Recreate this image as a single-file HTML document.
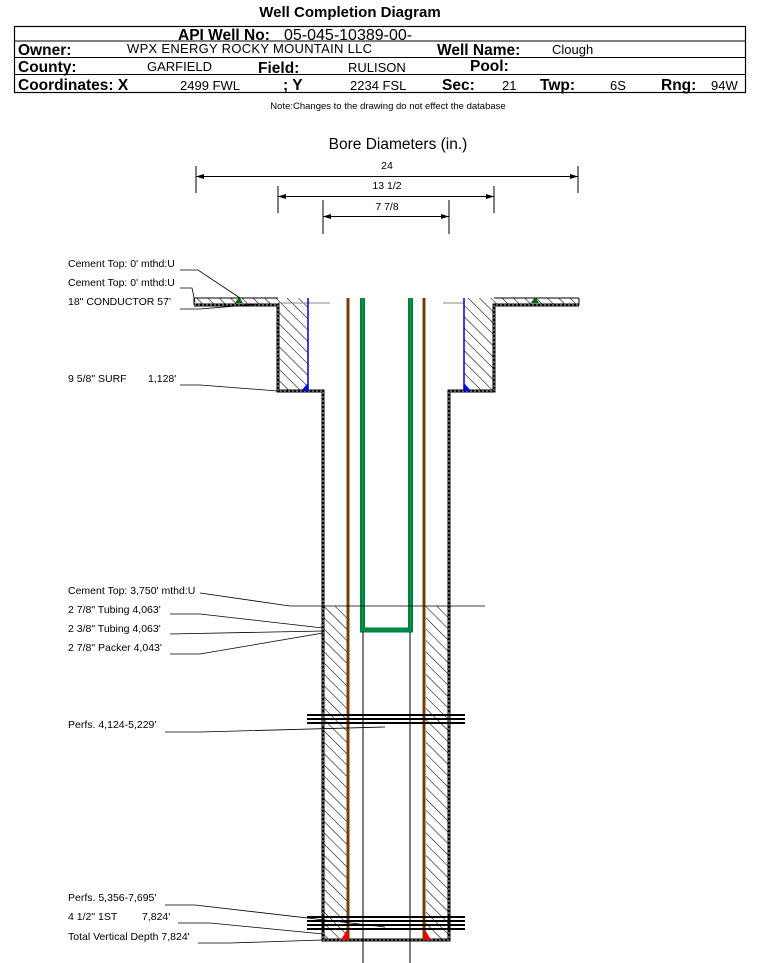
<!DOCTYPE html>
<html><head><meta charset="utf-8"><style>
body{margin:0;background:#fff}
svg{display:block;font-family:"Liberation Sans",Arial,sans-serif}
</style></head><body>
<svg width="759" height="963" viewBox="0 0 759 963" xmlns="http://www.w3.org/2000/svg">
<defs>
<pattern id="h" patternUnits="userSpaceOnUse" width="8" height="8" patternTransform="rotate(-45)">
<rect width="8" height="8" fill="#fff"/><line x1="0" y1="0" x2="0" y2="8" stroke="#000" stroke-width="1.1"/>
</pattern>
</defs>
<!-- header -->
<text x="350" y="17" font-size="15" font-weight="bold" text-anchor="middle">Well Completion Diagram</text>
<rect x="14.5" y="26.5" width="731" height="66" fill="none" stroke="#000" stroke-width="1.2"/>
<line x1="14" y1="41" x2="745" y2="41" stroke="#000"/>
<line x1="14" y1="57.5" x2="745" y2="57.5" stroke="#000"/>
<line x1="14" y1="74.5" x2="745" y2="74.5" stroke="#000"/>
<g font-size="15.5" font-weight="bold">
<text x="178" y="40">API Well No:</text>
<text x="18" y="55">Owner:</text><text x="437" y="55">Well Name:</text>
<text x="18" y="72">County:</text><text x="258" y="73">Field:</text><text x="470" y="71">Pool:</text>
<text x="18" y="90">Coordinates: X</text><text x="283" y="90">; Y</text><text x="442" y="90">Sec:</text><text x="540" y="90">Twp:</text><text x="661" y="90">Rng:</text>
</g>
<text x="284" y="40" font-size="16">05-045-10389-00-</text>
<g font-size="13">
<text x="127" y="53" textLength="245">WPX ENERGY ROCKY MOUNTAIN LLC</text><text x="552" y="54">Clough</text>
<text x="147" y="71">GARFIELD</text><text x="348" y="72">RULISON</text>
<text x="180" y="90">2499 FWL</text><text x="350" y="90">2234 FSL</text><text x="502" y="90">21</text><text x="610" y="90">6S</text><text x="711" y="90">94W</text>
</g>
<text x="388" y="109" font-size="9.5" text-anchor="middle">Note:Changes to the drawing do not effect the database</text>
<text x="398" y="149" font-size="15.5" text-anchor="middle">Bore Diameters (in.)</text>
<!-- dimensions -->
<g stroke="#000" stroke-width="1" fill="none">
<line x1="196" y1="166" x2="196" y2="193"/><line x1="578" y1="166" x2="578" y2="193"/><line x1="196" y1="176.5" x2="578" y2="176.5"/>
<line x1="278" y1="186" x2="278" y2="213"/><line x1="494" y1="186" x2="494" y2="213"/><line x1="278" y1="196.5" x2="494" y2="196.5"/>
<line x1="323" y1="200" x2="323" y2="234"/><line x1="449" y1="200" x2="449" y2="234"/><line x1="323" y1="216.5" x2="449" y2="216.5"/>
</g>
<g fill="#000">
<path d="M196 176.5 l8 -2.5 v5z"/><path d="M578 176.5 l-8 -2.5 v5z"/>
<path d="M278 196.5 l8 -2.5 v5z"/><path d="M494 196.5 l-8 -2.5 v5z"/>
<path d="M323 216.5 l8 -2.5 v5z"/><path d="M449 216.5 l-8 -2.5 v5z"/>
</g>
<g font-size="10.5" text-anchor="middle"><text x="387" y="169">24</text><text x="387" y="189">13 1/2</text><text x="387" y="210">7 7/8</text></g>
<!-- cement hatches -->
<rect x="194" y="298" width="84" height="7" fill="url(#h)"/>
<rect x="494" y="298" width="85" height="7" fill="url(#h)"/>
<rect x="278" y="298" width="30" height="93" fill="url(#h)"/>
<rect x="464" y="298" width="30" height="93" fill="url(#h)"/>
<rect x="323" y="606" width="24" height="334" fill="url(#h)"/>
<rect x="426" y="606" width="23" height="334" fill="url(#h)"/>
<!-- casing outlines -->
<g fill="none" stroke="#000" stroke-width="3">
<path d="M194 305 H278 V391 H323 V940 H449 V391 H494 V305 H579"/>
</g>
<g fill="none" stroke="#bbb" stroke-width="1" stroke-dasharray="2 2">
<path d="M194 305 H278 V391 H323 V940 H449 V391 H494 V305 H579"/>
</g>
<line x1="194" y1="298" x2="278" y2="298" stroke="#000"/><line x1="194" y1="298" x2="194" y2="305" stroke="#000"/>
<line x1="494" y1="298" x2="579" y2="298" stroke="#000"/><line x1="579" y1="298" x2="579" y2="305" stroke="#000"/>
<line x1="278" y1="303" x2="330" y2="303" stroke="#888"/><line x1="443" y1="303" x2="464" y2="303" stroke="#888"/>
<line x1="308" y1="298" x2="308" y2="391" stroke="#0000cc" stroke-width="1.5"/>
<line x1="464" y1="298" x2="464" y2="391" stroke="#0000cc" stroke-width="1.5"/>
<path d="M301 391 L308 383 V391Z" fill="#0000ee"/><path d="M464 383 L471 391 H464Z" fill="#0000ee"/>
<path d="M235 303 l4 -6 l4 6z" fill="#006600"/><path d="M531 303 l4 -6 l4 6z" fill="#006600"/>
<!-- production casing red -->
<g stroke-width="3">
<line x1="348" y1="298" x2="348" y2="940" stroke="#008000"/><line x1="424" y1="298" x2="424" y2="940" stroke="#008000"/>
</g>
<line x1="348" y1="298" x2="348" y2="940" stroke="#ee0000" stroke-width="1.5"/>
<line x1="424" y1="298" x2="424" y2="940" stroke="#ee0000" stroke-width="1.5"/>
<path d="M341 940 L348 928 V940Z" fill="#ee0000"/><path d="M424 928 L431 940 H424Z" fill="#ee0000"/>
<!-- tubing -->
<path d="M362.5 298 V630 H410.5 V298" fill="none" stroke="#008040" stroke-width="5"/>
<path d="M362.5 298 V630 H410.5 V298" fill="none" stroke="#00a040" stroke-width="1"/>
<line x1="363" y1="632" x2="363" y2="963" stroke="#000"/><line x1="410" y1="632" x2="410" y2="963" stroke="#000"/>
<!-- cement top line -->
<path d="M200 593 L290 606 H485" fill="none" stroke="#000" stroke-width="0.8"/>
<!-- perfs -->
<g stroke="#000" stroke-width="2">
<line x1="307" y1="715" x2="465" y2="715"/><line x1="307" y1="719" x2="465" y2="719"/><line x1="307" y1="723" x2="465" y2="723"/>
<line x1="307" y1="917" x2="465" y2="917"/><line x1="307" y1="921" x2="465" y2="921"/><line x1="307" y1="925" x2="465" y2="925"/><line x1="307" y1="929" x2="465" y2="929"/>
</g>
<!-- leaders -->
<g fill="none" stroke="#000" stroke-width="0.8">
<path d="M180 270 H198 L240 298"/>
<path d="M180 288 H192 L195 302"/>
<path d="M180 309 H200 L260 304"/>
<path d="M180 385 H200 L278 391"/>
<path d="M170 614 H200 L323 628"/>
<path d="M170 634 L323 631"/>
<path d="M170 654 H200 L323 633"/>
<path d="M165 732 H200 L385 727"/>
<path d="M165 905 H195 L385 927"/>
<path d="M178 923 H210 L323 934"/>
<path d="M198 943 H230 L323 940"/>
</g>
<g font-size="10.5">
<text x="68" y="267">Cement Top: 0' mthd:U</text>
<text x="68" y="286">Cement Top: 0' mthd:U</text>
<text x="68" y="305">18" CONDUCTOR  57'</text>
<text x="68" y="382">9 5/8" SURF</text><text x="148" y="382">1,128'</text>
<text x="68" y="594">Cement Top: 3,750' mthd:U</text>
<text x="68" y="613">2 7/8" Tubing 4,063'</text>
<text x="68" y="632">2 3/8" Tubing 4,063'</text>
<text x="68" y="651">2 7/8" Packer 4,043'</text>
<text x="68" y="728">Perfs. 4,124-5,229'</text>
<text x="68" y="901">Perfs. 5,356-7,695'</text>
<text x="68" y="920">4 1/2" 1ST</text><text x="142" y="920">7,824'</text>
<text x="68" y="940">Total Vertical Depth 7,824'</text>
</g>
</svg>
</body></html>
